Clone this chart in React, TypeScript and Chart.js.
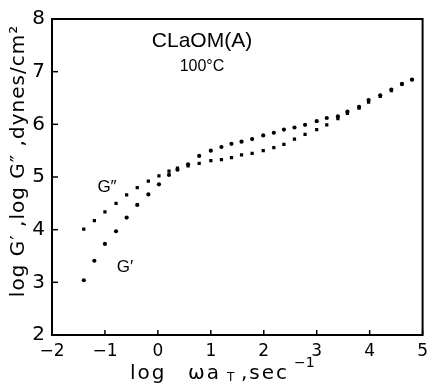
import React, { useEffect, useRef } from "react";
import { Chart, registerables } from "chart.js";

Chart.register(...registerables);

// log(omega a_T), sec^-1
const logFreq = [
  -1.4, -1.2, -1.0, -0.79, -0.59, -0.39, -0.18, 0.02, 0.21, 0.37, 0.57, 0.78, 1.0, 1.2, 1.39, 1.58,
  1.78, 1.99, 2.19, 2.38, 2.58, 2.78, 3.0, 3.19, 3.4, 3.58, 3.8, 3.98, 4.2, 4.41, 4.61, 4.8,
];
// log G'' (dynes/cm^2)
const logGdoublePrime = [
  4.01, 4.17, 4.34, 4.5, 4.66, 4.8, 4.92, 5.02, 5.11, 5.17, 5.21, 5.26, 5.31, 5.33, 5.37, 5.42,
  5.45, 5.5, 5.56, 5.62, 5.72, 5.81, 5.9, 5.99, 6.11, 6.21, 6.31, 6.42, 6.53, 6.64, 6.76, 6.85,
];
// log G' (dynes/cm^2)
const logGprime = [
  3.04, 3.41, 3.73, 3.97, 4.23, 4.47, 4.67, 4.86, 5.04, 5.14, 5.24, 5.4, 5.5, 5.57, 5.63, 5.67,
  5.72, 5.79, 5.84, 5.9, 5.94, 5.99, 6.06, 6.12, 6.15, 6.24, 6.33, 6.46, 6.55, 6.66, 6.77, 6.85,
];

const xTicks = [-2, -1, 0, 1, 2, 3, 4, 5];
const yTicks = [2, 3, 4, 5, 6, 7, 8];

const titleText = "CLaOM(A)";
const tempText = "100°C";
const gDoubleLabel = "G\u2033";
const gPrimeLabel = "G\u2032";
const yTitle = "log G\u2032 ,log G\u2033 ,dynes/cm\u00B2";

const FONT = '"Liberation Sans", "DejaVu Sans", Arial, sans-serif';
const WIDE = '"DejaVu Sans", "Liberation Sans", sans-serif';

const decorPlugin = {
  id: "decor",
  afterDraw(chart: any) {
    const { ctx, chartArea } = chart;
    const { left, right, top, bottom } = chartArea;
    const xs = chart.scales.x;
    const ys = chart.scales.y;
    ctx.save();
    ctx.setLineDash([]);
    ctx.globalAlpha = 1;
    ctx.globalCompositeOperation = "source-over";
    ctx.lineCap = "square";
    ctx.strokeStyle = "#000000";
    ctx.fillStyle = "#000000";
    ctx.lineWidth = 2;
    ctx.beginPath();
    ctx.moveTo(left, top);
    ctx.lineTo(right, top);
    ctx.lineTo(right, bottom);
    ctx.lineTo(left, bottom);
    ctx.closePath();
    ctx.stroke();
    ctx.lineWidth = 1.5;
    ctx.lineCap = "butt";
    xTicks.forEach((v) => {
      const px = xs.getPixelForValue(v);
      ctx.beginPath();
      ctx.moveTo(px, bottom);
      ctx.lineTo(px, bottom - 5);
      ctx.stroke();
    });
    yTicks.forEach((v) => {
      const py = ys.getPixelForValue(v);
      ctx.beginPath();
      ctx.moveTo(left, py);
      ctx.lineTo(left + 6, py);
      ctx.stroke();
    });

    // titles inside plot
    ctx.textAlign = "center";
    ctx.textBaseline = "middle";
    ctx.font = `21px ${FONT}`;
    ctx.fillText(titleText, 202, 41);
    ctx.font = `16px ${FONT}`;
    ctx.fillText(tempText, 202, 67);
    ctx.font = `17px ${FONT}`;
    ctx.fillText(gDoubleLabel, 107, 187);
    ctx.fillText(gPrimeLabel, 125, 267);

    // y axis title
    ctx.save();
    ctx.translate(19, 161);
    ctx.rotate(-Math.PI / 2);
    ctx.font = `20px ${WIDE}`;
    (ctx as any).letterSpacing = "1px";
    ctx.textAlign = "center";
    ctx.textBaseline = "middle";
    ctx.fillText(yTitle, 0, 0);
    ctx.restore();

    // x axis title with subscript and superscript
    ctx.save();
    ctx.textAlign = "left";
    ctx.textBaseline = "alphabetic";
    (ctx as any).letterSpacing = "2px";
    const base = 379;
    ctx.font = `20px ${WIDE}`;
    ctx.fillText("log", 130, base);
    ctx.fillText("\u03C9a", 188, base);
    ctx.fillText(",sec", 241, base);
    ctx.font = `12px ${WIDE}`;
    (ctx as any).letterSpacing = "0px";
    ctx.fillText("T", 227, base + 2);
    ctx.font = `14px ${WIDE}`;
    ctx.fillText("\u22121", 294, base - 12);
    ctx.restore();
    ctx.restore();
  },
};

export default function App() {
  const ref = useRef<HTMLCanvasElement | null>(null);
  useEffect(() => {
    if (!ref.current) return;
    const chart = new Chart(ref.current, {
      type: "scatter",
      data: {
        datasets: [
          {
            label: "G''",
            data: logFreq.map((x, i) => ({ x, y: logGdoublePrime[i] })),
            pointStyle: "rect",
            pointRadius: 2.3,
            backgroundColor: "#000",
            borderColor: "#000",
            borderWidth: 0,
          },
          {
            label: "G'",
            data: logFreq.map((x, i) => ({ x, y: logGprime[i] })),
            pointStyle: "circle",
            pointRadius: 2.1,
            backgroundColor: "#000",
            borderColor: "#000",
            borderWidth: 0,
          },
        ],
      },
      options: {
        animation: false,
        responsive: false,
        devicePixelRatio: 1,
        layout: { padding: { top: 12, right: 2, left: 0, bottom: 0 } },
        plugins: { legend: { display: false }, tooltip: { enabled: false } },
        scales: {
          x: {
            type: "linear",
            min: -2,
            max: 5,
            afterFit: (s: any) => {
              s.height = 50;
            },
            afterBuildTicks: (s: any) => {
              s.ticks = xTicks.map((v) => ({ value: v }));
            },
            grid: { display: false, drawTicks: false },
            border: { display: false },
            ticks: {
              color: "#000",
              font: { size: 17, family: WIDE },
              padding: 6,
              callback: (v: any) => (Number(v) < 0 ? "\u2212" + Math.abs(Number(v)) : String(v)),
            },
          },
          y: {
            type: "linear",
            min: 2,
            max: 8,
            afterFit: (s: any) => {
              s.width = 52;
            },
            afterBuildTicks: (s: any) => {
              s.ticks = yTicks.map((v) => ({ value: v }));
            },
            grid: { display: false, drawTicks: false },
            border: { display: false },
            ticks: {
              color: "#000",
              font: { size: 20, family: WIDE },
              padding: 7,
            },
          },
        },
      },
      plugins: [decorPlugin],
    });
    return () => chart.destroy();
  }, []);
  return (
    <div style={{ position: "absolute", left: 0, top: 0, width: 434, height: 385, background: "#fff" }}>
      <canvas ref={ref} width={434} height={385} />
    </div>
  );
}
